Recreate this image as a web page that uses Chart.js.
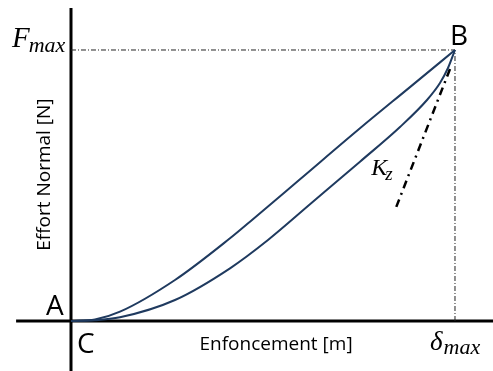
<!DOCTYPE html>
<html>
<head>
<meta charset="utf-8">
<script src="https://cdn.jsdelivr.net/npm/chart.js@4"></script>
<style>
  html, body { margin: 0; padding: 0; background: #fff; }
  #wrap { width: 493px; height: 371px; }
</style>
</head>
<body>
<div id="wrap"><canvas id="chart" width="493" height="371"></canvas></div>
<script>
// Loading curve (upper) and unloading curve (lower), normalised to delta_max / F_max
const loadX = [0, 0.0625, 0.1276, 0.2708, 0.4141, 0.4661, 0.5964, 0.7526, 0.8828, 1];
const loadY = [0, 0.0055, 0.0343, 0.1513, 0.3052, 0.3664, 0.523, 0.7111, 0.863, 1];
const unloadX = [0, 0.0625, 0.1276, 0.2708, 0.4141, 0.513, 0.6224, 0.7526, 0.8568, 0.9271, 0.9609, 0.9818, 1];
const unloadY = [0, 0.0026, 0.0137, 0.0775, 0.1945, 0.2989, 0.4306, 0.5878, 0.7159, 0.8155, 0.8782, 0.9336, 1];

// Stiffness tangent Kz (dash-dot) near B
const kzX = [0.987, 0.846];
const kzY = [0.930, 0.417];

// Guide lines to F_max and delta_max
const guideX = [0, 1, 1];
const guideY = [1, 1, 0];

// Axes drawn as lines
const xAxisX = [-0.143, 1.1];
const xAxisY = [0, 0];
const yAxisX = [0, 0];
const yAxisY = [-0.19, 1.155];

const navy = "#1f3a5f";

function pts(xs, ys) {
  return xs.map((x, i) => ({ x: x, y: ys[i] }));
}

// Labels drawn at data positions
const labelPlugin = {
  id: "labels",
  afterDraw(chart) {
    const ctx = chart.ctx;
    const sx = chart.scales.x, sy = chart.scales.y;
    const px = v => sx.getPixelForValue(v);
    const py = v => sy.getPixelForValue(v);
    ctx.save();
    ctx.fillStyle = "#000";
    ctx.textBaseline = "alphabetic";

    // Letters A, B, C
    ctx.font = "28px 'Open Sans'";
    ctx.textAlign = "left";
    ctx.fillText("B", px(1) - 5, py(1) - 5);
    ctx.fillText("A", px(0) - 25, py(0) - 6);
    ctx.fillText("C", px(0) + 6, py(0) + 32);

    // Axis titles
    ctx.font = "19px 'Open Sans'";
    ctx.textAlign = "center";
    ctx.fillText("Enfoncement [m]", px(0.534), py(0) + 29);
    ctx.save();
    ctx.translate(px(0) - 21, py(0.54));
    ctx.rotate(-Math.PI / 2);
    ctx.fillText("Effort Normal [N]", 0, 0);
    ctx.restore();

    // Math labels
    ctx.textAlign = "left";
    const bx = px(0) - 59, by = py(1) - 3;
    ctx.font = "italic 29px 'Liberation Serif'";
    ctx.fillText("F", bx, by);
    let w = ctx.measureText("F").width;
    ctx.font = "italic 22px 'Liberation Serif'";
    ctx.fillText("max", bx + w - 1, by + 5);

    const dx = px(1) - 25, dy = py(0) + 29;
    ctx.font = "italic 27px 'Liberation Serif'";
    ctx.fillText("\u03B4", dx, dy);
    w = ctx.measureText("\u03B4").width;
    ctx.font = "italic 22px 'Liberation Serif'";
    ctx.fillText("max", dx + w + 1, dy + 4);

    const kx = px(0.782), ky = py(0.538);
    ctx.font = "italic 24px 'Liberation Serif'";
    ctx.fillText("K", kx, ky);
    w = ctx.measureText("K").width;
    ctx.font = "italic 19px 'Liberation Serif'";
    ctx.fillText("z", kx + w - 2, ky + 5);
    ctx.restore();
  }
};

new Chart(document.getElementById("chart"), {
  type: "scatter",
  data: {
    datasets: [
      {
        data: pts(loadX, loadY),
        showLine: true,
        borderColor: navy,
        borderWidth: 2,
        pointRadius: 0,
        cubicInterpolationMode: "monotone"
      },
      {
        data: pts(unloadX, unloadY),
        showLine: true,
        borderColor: navy,
        borderWidth: 2,
        pointRadius: 0,
        cubicInterpolationMode: "monotone"
      },
      {
        data: pts(kzX, kzY),
        showLine: true,
        borderColor: "#000",
        borderWidth: 2.5,
        borderDash: [8, 5, 2, 5],
        pointRadius: 0
      },
      {
        data: pts(guideX, guideY),
        showLine: true,
        borderColor: "#222",
        borderWidth: 1,
        borderDash: [5, 2, 1, 2],
        pointRadius: 0
      },
      {
        data: pts(xAxisX, xAxisY),
        showLine: true,
        borderColor: "#000",
        borderWidth: 3,
        pointRadius: 0
      },
      {
        data: pts(yAxisX, yAxisY),
        showLine: true,
        borderColor: "#000",
        borderWidth: 3,
        pointRadius: 0
      }
    ]
  },
  options: {
    responsive: false,
    animation: false,
    layout: { padding: 0 },
    plugins: {
      legend: { display: false },
      tooltip: { enabled: false }
    },
    scales: {
      x: { type: "linear", display: false, min: -0.1849, max: 1.099 },
      y: { type: "linear", display: false, min: -0.1845, max: 1.1845 }
    }
  },
  plugins: [labelPlugin]
});
</script>
</body>
</html>
